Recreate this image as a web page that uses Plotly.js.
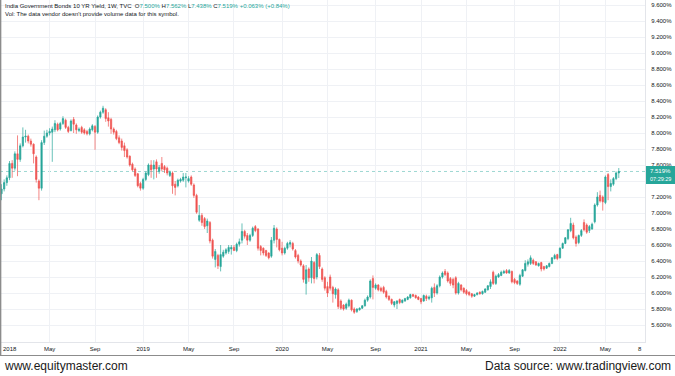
<!DOCTYPE html>
<html><head><meta charset="utf-8">
<script src="https://cdn.plot.ly/plotly-3.0.1.min.js"></script>
<style>html,body{margin:0;padding:0;background:#fff;}#chart{width:675px;height:376px;}</style>
</head><body><div id="chart"></div>
<script>
// Weekly bars, first bar week of 2018-01-01
const firstWeekUTC = Date.UTC(2018, 0, 1);

const openVals = [
7.24,7.30,7.38,7.44,7.62,7.56,7.74,7.67,7.84,7.95,
7.96,7.90,7.86,7.70,7.40,7.31,7.88,7.96,8.00,8.01,
8.04,8.11,8.05,8.12,8.16,8.07,8.03,8.17,8.10,8.03,
8.07,8.04,8.02,7.99,8.04,8.08,8.01,8.20,8.26,8.29,
8.19,8.17,8.05,8.02,7.94,7.90,7.84,7.79,7.71,7.61,
7.55,7.49,7.37,7.31,7.42,7.48,7.60,7.55,7.64,7.52,
7.62,7.58,7.56,7.47,7.50,7.36,7.34,7.40,7.41,7.44,
7.40,7.45,7.35,7.22,6.91,6.97,6.93,6.84,6.88,6.66,
6.42,6.47,6.33,6.46,6.50,6.52,6.55,6.57,6.53,6.61,
6.66,6.77,6.72,6.66,6.72,6.83,6.80,6.58,6.56,6.53,
6.50,6.46,6.66,6.80,6.67,6.56,6.50,6.56,6.61,6.62,
6.53,6.47,6.40,6.34,6.12,6.30,6.19,6.38,6.20,6.47,
6.30,6.19,6.08,6.20,6.07,5.98,6.04,5.90,5.85,5.81,
5.84,5.91,5.80,5.77,5.79,5.81,5.84,5.91,5.95,6.18,
6.06,6.10,6.06,6.07,6.02,5.96,5.92,5.85,5.87,5.92,
5.88,5.90,5.92,5.94,5.98,5.97,5.95,5.93,5.90,5.96,
5.93,5.94,6.07,6.00,6.09,6.20,6.27,6.25,6.18,6.17,
6.19,6.00,6.10,6.06,6.03,6.01,5.99,5.96,5.98,6.01,
5.99,6.01,6.04,6.08,6.26,6.12,6.20,6.22,6.25,6.28,
6.25,6.27,6.17,6.15,6.11,6.21,6.28,6.36,6.37,6.41,
6.39,6.34,6.38,6.33,6.31,6.33,6.37,6.43,6.48,6.44,
6.56,6.62,6.68,6.78,6.85,6.70,6.63,6.72,6.88,6.85,
6.78,6.80,6.89,7.10,7.22,7.20,7.13,7.48,7.33,7.36,
7.43,7.500];

const highVals = [
7.36,7.42,7.47,7.65,7.66,7.77,7.97,7.87,8.07,8.04,
7.98,7.93,7.87,7.72,7.42,7.91,8.03,8.04,8.06,8.08,
8.16,8.13,8.14,8.21,8.18,8.09,8.17,8.20,8.12,8.07,
8.09,8.06,8.04,8.07,8.11,8.10,8.22,8.28,8.34,8.31,
8.26,8.19,8.07,8.04,7.97,7.93,7.88,7.81,7.72,7.63,
7.57,7.50,7.39,7.44,7.52,7.62,7.66,7.66,7.67,7.60,
7.70,7.60,7.58,7.53,7.52,7.40,7.43,7.44,7.50,7.50,
7.46,7.47,7.37,7.24,7.10,7.00,6.95,6.93,6.90,6.68,
6.55,6.49,6.60,6.54,6.56,6.60,6.60,6.60,6.63,6.68,
6.87,6.79,6.75,6.74,6.83,6.85,6.81,6.60,6.57,6.54,
6.51,6.70,6.85,6.82,6.68,6.64,6.58,6.64,6.66,6.64,
6.55,6.49,6.42,6.36,6.35,6.32,6.45,6.40,6.50,6.50,
6.32,6.21,6.14,6.23,6.09,6.07,6.06,5.92,5.86,5.88,
5.93,5.92,5.82,5.81,5.82,5.85,5.93,5.97,6.17,6.22,
6.12,6.11,6.08,6.09,6.04,5.97,5.93,5.90,5.91,5.93,
5.92,5.94,5.96,5.99,5.99,5.98,5.96,5.94,5.98,5.98,
5.97,6.08,6.12,6.11,6.22,6.27,6.30,6.27,6.20,6.19,
6.21,6.14,6.11,6.07,6.05,6.02,6.00,5.99,6.01,6.02,
6.03,6.06,6.10,6.17,6.28,6.23,6.25,6.28,6.29,6.30,
6.30,6.28,6.19,6.16,6.24,6.30,6.41,6.42,6.47,6.43,
6.40,6.38,6.39,6.34,6.35,6.38,6.45,6.49,6.49,6.57,
6.63,6.70,6.80,6.94,6.88,6.72,6.73,6.80,6.92,6.87,
6.85,6.88,7.12,7.26,7.28,7.22,7.47,7.50,7.42,7.45,
7.52,7.562];

const lowVals = [
7.16,7.27,7.34,7.41,7.44,7.53,7.46,7.64,7.82,7.88,
7.87,7.83,7.62,7.38,7.16,7.28,7.85,7.94,7.97,7.64,
8.01,8.02,8.03,8.10,8.05,8.00,8.02,8.00,7.99,8.01,
7.99,7.98,7.97,7.97,8.02,7.79,7.99,8.18,8.24,8.14,
8.08,7.99,7.98,7.91,7.86,7.78,7.70,7.68,7.58,7.52,
7.45,7.32,7.28,7.29,7.40,7.46,7.44,7.42,7.44,7.49,
7.52,7.50,7.47,7.45,7.24,7.22,7.32,7.38,7.39,7.32,
7.38,7.34,7.19,6.99,6.89,6.84,6.80,6.75,6.62,6.43,
6.32,6.30,6.27,6.44,6.48,6.49,6.48,6.53,6.51,6.58,
6.62,6.68,6.60,6.64,6.70,6.76,6.53,6.47,6.47,6.45,
6.42,6.44,6.62,6.57,6.52,6.47,6.48,6.54,6.57,6.53,
6.43,6.37,6.33,6.13,5.98,6.14,6.12,6.12,6.17,6.30,
6.14,6.03,5.95,6.03,5.88,5.93,5.80,5.79,5.78,5.79,
5.82,5.77,5.74,5.75,5.78,5.80,5.83,5.89,5.93,5.92,
6.04,6.02,6.01,5.99,5.93,5.90,5.85,5.82,5.80,5.86,
5.87,5.89,5.91,5.93,5.95,5.93,5.91,5.86,5.89,5.90,
5.91,5.88,5.95,5.98,6.07,6.18,6.21,6.13,6.09,6.06,
5.98,5.98,6.02,5.99,5.97,5.96,5.94,5.95,5.97,5.98,
5.98,6.00,6.03,6.05,6.10,6.10,6.19,6.21,6.24,6.24,
6.24,6.12,6.11,6.10,6.09,6.20,6.27,6.33,6.35,6.35,
6.34,6.33,6.27,6.28,6.30,6.32,6.36,6.42,6.41,6.43,
6.55,6.61,6.66,6.76,6.67,6.58,6.61,6.70,6.77,6.74,
6.75,6.79,6.87,7.08,7.13,7.03,7.11,7.16,7.27,7.34,
7.41,7.438];

const closeVals = [
7.30,7.38,7.44,7.62,7.56,7.74,7.67,7.84,7.95,7.96,
7.90,7.86,7.74,7.42,7.31,7.88,7.96,8.00,8.02,8.05,
8.12,8.04,8.12,8.18,8.07,8.02,8.15,8.11,8.04,8.05,
8.01,8.00,7.99,8.05,8.09,8.01,8.20,8.26,8.31,8.18,
8.15,8.05,8.01,7.93,7.88,7.82,7.78,7.70,7.60,7.54,
7.47,7.34,7.31,7.42,7.50,7.60,7.54,7.60,7.55,7.57,
7.55,7.54,7.50,7.51,7.34,7.32,7.41,7.42,7.45,7.45,
7.43,7.36,7.22,7.01,6.97,6.88,6.83,6.90,6.65,6.46,
6.52,6.34,6.48,6.51,6.54,6.57,6.57,6.53,6.61,6.64,
6.77,6.71,6.66,6.72,6.81,6.78,6.56,6.53,6.50,6.47,
6.44,6.66,6.81,6.67,6.54,6.50,6.56,6.62,6.63,6.55,
6.45,6.40,6.35,6.17,6.29,6.19,6.40,6.18,6.48,6.33,
6.17,6.06,6.00,6.06,5.99,6.05,5.83,5.81,5.80,5.86,
5.91,5.79,5.76,5.80,5.81,5.84,5.91,5.95,6.15,6.07,
6.10,6.04,6.03,6.01,5.95,5.92,5.87,5.89,5.90,5.88,
5.91,5.93,5.95,5.98,5.96,5.94,5.92,5.89,5.97,5.93,
5.95,6.06,6.00,6.09,6.20,6.25,6.23,6.15,6.12,6.10,
6.00,6.12,6.04,6.01,5.99,5.98,5.96,5.98,6.00,5.99,
6.02,6.05,6.09,6.14,6.12,6.21,6.23,6.26,6.27,6.25,
6.28,6.14,6.13,6.12,6.22,6.29,6.37,6.39,6.44,6.37,
6.35,6.37,6.30,6.30,6.34,6.37,6.44,6.47,6.43,6.56,
6.62,6.69,6.79,6.87,6.69,6.62,6.72,6.78,6.79,6.76,
6.83,6.86,7.10,7.20,7.15,7.14,7.45,7.33,7.37,7.43,
7.50,7.519];

const tickDates  = ['2018-05-07','2018-09-03','2019-01-07','2019-05-06','2019-09-02',
                    '2020-01-06','2020-05-04','2020-09-07','2021-01-04','2021-05-03','2021-09-06',
                    '2022-01-03','2022-05-02'];
const tickLabels = ['May','Sep','2019','May','Sep','2020','May','Sep','2021','May','Sep','2022','May'];
const edgeLabelLeft = '2018';
const edgeLabelRight = '8';

const yTickVals   = [5.6,5.8,6.0,6.2,6.4,6.6,6.8,7.0,7.2,7.4,7.6,7.8,8.0,8.2,8.4,8.6,8.8,9.0,9.2,9.4,9.6];
const yTickLabels = ['5.600%','5.800%','6.000%','6.200%','6.400%','6.600%','6.800%','7.000%','7.200%','',
                     '7.600%','7.800%','8.000%','8.200%','8.400%','8.600%','8.800%','9.000%','9.200%','9.400%','9.600%'];

const headerName = 'India Government Bonds 10 YR Yield, 1W, TVC';
const headerOHLC = {O:'7.500%', H:'7.562%', L:'7.438%', C:'7.519%'};
const headerChange = '+0.063% (+0.84%)';
const volNote = "Vol: The data vendor doesn't provide volume data for this symbol.";
const priceTagText = '7.519%';
const countdownText = '07:29:29';

// weekly dates (category axis)
const weeks = [];
for (let i = 0; i < closeVals.length; i++) {
  weeks.push(new Date(firstWeekUTC + i * 7 * 86400000).toISOString().slice(0, 10));
}

const UP = '#26a69a', DOWN = '#ef5350';
const W = 675, H = 376, PR = 645, PB = 342;
const px = v => v / PR;            // pixel x -> paper
const py = v => (PB - v) / PB;     // pixel y -> paper
const lastClose = closeVals[closeVals.length - 1];

const trace = {
  type: 'candlestick', x: weeks,
  open: openVals, high: highVals, low: lowVals, close: closeVals,
  increasing: {line: {color: UP, width: 0.7}, fillcolor: UP},
  decreasing: {line: {color: DOWN, width: 0.7}, fillcolor: DOWN},
  whiskerwidth: 0, hoverinfo: 'skip'
};

const tf = {family: 'Liberation Sans, Arial, sans-serif', size: 6, color: '#131722'};
const sp = (t, c) => '<span style="color:' + c + '">' + t + '</span>';
const header1 = headerName + '  ' +
  'O' + sp(headerOHLC.O, UP) + ' H' + sp(headerOHLC.H, UP) + ' L' + sp(headerOHLC.L, UP) +
  ' C' + sp(headerOHLC.C, UP) + ' ' + sp(headerChange, UP);

const layout = {
  width: W, height: H,
  margin: {l: 0, r: W - PR, t: 0, b: H - PB, pad: 0},
  paper_bgcolor: '#ffffff', plot_bgcolor: '#ffffff',
  showlegend: false, dragmode: false,
  xaxis: {
    type: 'date', range: ['2017-12-28 02:00', '2022-08-13 17:00'],
    tickmode: 'array', tickvals: tickDates, ticktext: tickLabels,
    showgrid: true, gridcolor: '#eff1f5', gridwidth: 1,
    ticks: '', tickfont: tf, ticklabelstandoff: 1,
    showline: true, linecolor: '#e3e5ea', linewidth: 1,
    zeroline: false, rangeslider: {visible: false}, fixedrange: true
  },
  yaxis: {
    side: 'right', range: [5.3875, 9.6625],
    tickmode: 'array', tickvals: yTickVals, ticktext: yTickLabels,
    showgrid: true, gridcolor: '#eff1f5', gridwidth: 1,
    ticks: '', tickfont: tf, ticklabelstandoff: 4,
    showline: true, linecolor: '#e3e5ea', linewidth: 1,
    zeroline: false, fixedrange: true
  },
  shapes: [
    {type: 'line', xref: 'paper', yref: 'y', x0: 0, x1: 1, y0: lastClose, y1: lastClose,
     line: {color: 'rgba(38,166,154,0.45)', width: 1, dash: 'dot'}, layer: 'below'},
    {type: 'rect', xref: 'paper', yref: 'paper', x0: px(646), x1: px(676), y0: py(184), y1: py(166),
     fillcolor: UP, line: {width: 0}, layer: 'above'},
    {type: 'line', xref: 'paper', yref: 'paper', x0: px(0.6), x1: px(0.6), y0: 1, y1: py(355.5),
     line: {color: '#8c8c8c', width: 1.5}, layer: 'above'},
    {type: 'line', xref: 'paper', yref: 'paper', x0: 0, x1: px(675), y0: py(355.5), y1: py(355.5),
     line: {color: '#8c8c8c', width: 1.2}, layer: 'above'}
  ],
  annotations: [
    {xref: 'paper', yref: 'paper', x: px(4), y: py(6), xanchor: 'left', yanchor: 'middle',
     text: header1, showarrow: false, font: tf, borderpad: 0},
    {xref: 'paper', yref: 'paper', x: px(4), y: py(14), xanchor: 'left', yanchor: 'middle',
     text: volNote, showarrow: false, font: tf, borderpad: 0},
    {xref: 'paper', yref: 'paper', x: px(649), y: py(171), xanchor: 'left', yanchor: 'middle',
     text: priceTagText, showarrow: false, font: {family: tf.family, size: 6, color: '#ffffff'}, borderpad: 0},
    {xref: 'paper', yref: 'paper', x: px(649), y: py(179), xanchor: 'left', yanchor: 'middle',
     text: countdownText, showarrow: false, font: {family: tf.family, size: 5.5, color: '#ffffff'}, borderpad: 0},
    {xref: 'paper', yref: 'paper', x: px(2), y: py(348.5), xanchor: 'left', yanchor: 'middle',
     text: edgeLabelLeft, showarrow: false, font: tf, borderpad: 0},
    {xref: 'paper', yref: 'paper', x: px(640), y: py(348.5), xanchor: 'center', yanchor: 'middle',
     text: edgeLabelRight, showarrow: false, font: tf, borderpad: 0},
    {xref: 'paper', yref: 'paper', x: px(3), y: py(366), xanchor: 'left', yanchor: 'middle',
     text: 'www.equitymaster.com', showarrow: false,
     font: {family: 'Liberation Sans, Arial, sans-serif', size: 12, color: '#1a1a1a'}, borderpad: 0},
    {xref: 'paper', yref: 'paper', x: px(672), y: py(366), xanchor: 'right', yanchor: 'middle',
     text: 'Data source: www.tradingview.com', showarrow: false,
     font: {family: 'Liberation Sans, Arial, sans-serif', size: 12, color: '#1a1a1a'}, borderpad: 0}
  ]
};

Plotly.newPlot('chart', [trace], layout, {displayModeBar: false, staticPlot: true});
</script>
</body></html>
